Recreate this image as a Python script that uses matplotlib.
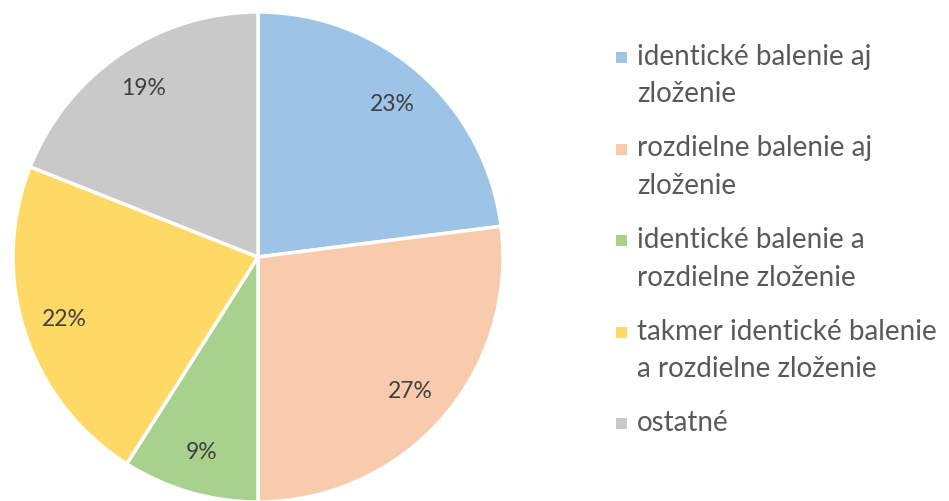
import matplotlib
matplotlib.use("Agg")
import matplotlib.pyplot as plt
from matplotlib.patches import Rectangle

# Share of products by packaging / composition similarity
labels = [
    "identické balenie aj\nzloženie",
    "rozdielne balenie aj\nzloženie",
    "identické balenie a\nrozdielne zloženie",
    "takmer identické balenie\na rozdielne zloženie",
    "ostatné",
]
shares = [23, 27, 9, 22, 19]
colors = ["#9DC3E6", "#F8CBAD", "#A9D18E", "#FFD966", "#C9C9C9"]

plt.rcParams["font.family"] = ["Lato", "DejaVu Sans"]

W, H = 949, 501
fig = plt.figure(figsize=(W / 100, H / 100), dpi=100)
ax = fig.add_axes([13 / W, -1 / H, 490 / W, 490 / H])

wedges, texts, autotexts = ax.pie(
    shares, colors=colors, startangle=90, counterclock=False,
    autopct="%d%%", pctdistance=0.83,
    wedgeprops=dict(edgecolor="white", linewidth=2.5),
    textprops=dict(color="#404040", fontsize=16.5),
)
ax.set_xlim(-1, 1)
ax.set_ylim(-1, 1)
ax.set_aspect("equal")

# legend drawn by hand so the marker sits on the first line of each entry
line_h = 37.5
gap = 54
baseline = 65
for lab, col in zip(labels, colors):
    lines = lab.split("\n")
    fig.add_artist(Rectangle((616 / W, 1 - (baseline - 2) / H), 11 / W, 11 / H,
                             transform=fig.transFigure, facecolor=col,
                             edgecolor="none"))
    for j, ln in enumerate(lines):
        fig.text(637 / W, 1 - (baseline + j * line_h) / H, ln,
                 fontsize=20, color="#595959", va="baseline", ha="left")
    baseline += (len(lines) - 1) * line_h + gap

fig.savefig("out.png", dpi=100)
